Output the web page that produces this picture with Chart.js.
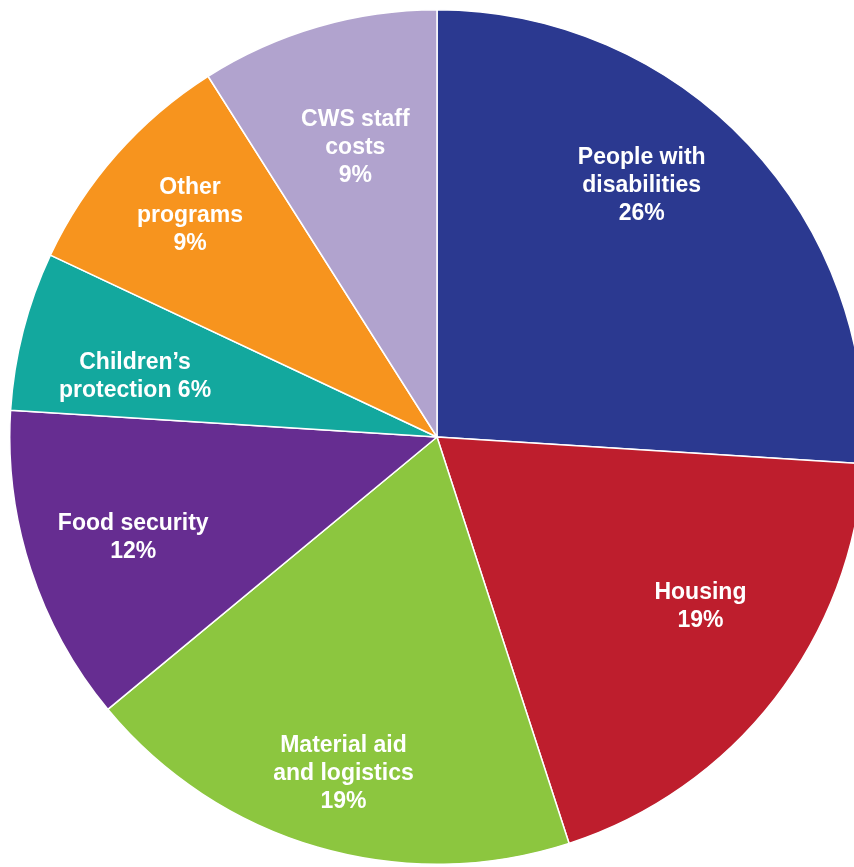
<!DOCTYPE html>
<html>
<head>
<meta charset="utf-8">
<script src="https://cdn.jsdelivr.net/npm/chart.js@4"></script>
<style>
  html, body { margin: 0; padding: 0; background: #fff; overflow: hidden; width: 854px; height: 867px; }
  #wrap { position: absolute; left: 9px; top: 9px; width: 856px; height: 856px; }
</style>
</head>
<body>
<div id="wrap"><canvas id="pie" width="856" height="856"></canvas></div>
<script>
// categories, shares (%) and label lines
const categories = ["People with disabilities", "Housing", "Material aid and logistics",
                    "Food security", "Children’s protection", "Other programs", "CWS staff costs"];
const shares = [26, 19, 19, 12, 6, 9, 9];
const labelLines = [
    ["People with", "disabilities", "26%"],
    ["Housing", "19%"],
    ["Material aid", "and logistics", "19%"],
    ["Food security", "12%"],
    ["Children’s", "protection 6%"],
    ["Other", "programs", "9%"],
    ["CWS staff", "costs", "9%"]
];
const sliceColors = ["#2B3990", "#BE1E2D", "#8CC63F", "#662D91", "#13A89E", "#F7941E", "#B1A3CE"];

// how far out (fraction of radius) each label sits, plus small nudges
const labelRadius = [0.76, 0.73, 0.81, 0.75, 0.72, 0.78, 0.71];
const labelNudge = [[-32, -29], [17, -22], [3, 4], [1, 2], [-4, 16], [3, -1], [3, 2]];

// 📌 draw the white labels inside each slice
const sliceLabels = {
    id: "sliceLabels",
    afterDatasetsDraw(chart) {
        const ctx = chart.ctx;
        const meta = chart.getDatasetMeta(0);
        ctx.save();
        ctx.fillStyle = "#fff";
        ctx.font = "bold 23px 'Liberation Sans', Arial, sans-serif";
        ctx.textAlign = "center";
        ctx.textBaseline = "middle";
        meta.data.forEach((arc, i) => {
            const p = arc.getProps(["x", "y", "startAngle", "endAngle", "outerRadius"], true);
            const mid = (p.startAngle + p.endAngle) / 2;
            const r = p.outerRadius * labelRadius[i];
            const cx = p.x + Math.cos(mid) * r + labelNudge[i][0];
            const cy = p.y + Math.sin(mid) * r + labelNudge[i][1];
            const lines = labelLines[i];
            const lh = 28;
            lines.forEach((t, k) => {
                ctx.fillText(t, cx, cy + (k - (lines.length - 1) / 2) * lh);
            });
        });
        ctx.restore();
    }
};

new Chart(document.getElementById("pie"), {
    type: "pie",
    data: {
        labels: categories,
        datasets: [{
            data: shares,
            backgroundColor: sliceColors,
            borderColor: "#fff",
            borderWidth: 1.5
        }]
    },
    options: {
        responsive: false,
        animation: false,
        layout: { padding: 0 },
        plugins: {
            legend: { display: false },
            tooltip: { enabled: false }
        }
    },
    plugins: [sliceLabels]
});
</script>
</body>
</html>
